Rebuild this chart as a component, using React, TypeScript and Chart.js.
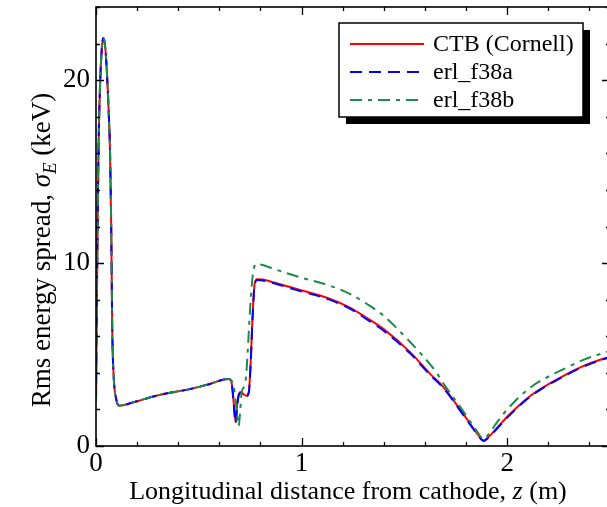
import React, { useEffect, useRef } from "react";
import { Chart, registerables } from "chart.js";

Chart.register(...registerables);

// ---- data (z in m, sigma_E in keV) ----
const zCTB = [0, 0.002, 0.006, 0.0122, 0.02, 0.028, 0.0355, 0.045, 0.055, 0.062, 0.068, 0.074, 0.079, 0.086, 0.098, 0.114, 0.14, 0.2, 0.294, 0.38, 0.456, 0.55, 0.642, 0.655, 0.663, 0.671, 0.679, 0.686, 0.695, 0.705, 0.72, 0.731, 0.743, 0.752, 0.762, 0.772, 0.785, 0.81, 0.87, 0.977, 1.136, 1.237, 1.31, 1.399, 1.529, 1.626, 1.691, 1.78, 1.85, 1.886, 1.91, 1.951, 2.0, 2.113, 2.274, 2.38, 2.5];
const sigmaCTB = [2.4, 5, 10, 16.2, 19.8, 21.7, 22.3, 21.8, 20, 18.2, 16.2, 12, 6.4, 3.8, 2.57, 2.2, 2.25, 2.45, 2.75, 2.95, 3.11, 3.38, 3.66, 3.6, 3.2, 2.2, 1.3, 2.2, 2.85, 2.95, 2.8, 2.75, 2.95, 4.5, 7.2, 8.9, 9.12, 9.1, 8.92, 8.58, 8.05, 7.55, 7.05, 6.39, 5.12, 3.93, 3.21, 1.85, 0.75, 0.3, 0.5, 1.0, 1.6, 2.75, 3.84, 4.42, 4.9];

const zF38a = [0, 0.002, 0.006, 0.0122, 0.02, 0.028, 0.0355, 0.045, 0.055, 0.062, 0.068, 0.074, 0.079, 0.086, 0.098, 0.114, 0.14, 0.2, 0.294, 0.38, 0.456, 0.55, 0.642, 0.655, 0.663, 0.671, 0.679, 0.686, 0.695, 0.705, 0.72, 0.731, 0.743, 0.752, 0.762, 0.772, 0.785, 0.81, 0.87, 0.977, 1.136, 1.237, 1.31, 1.399, 1.529, 1.626, 1.691, 1.78, 1.85, 1.886, 1.91, 1.951, 2.0, 2.113, 2.274, 2.38, 2.5];
const sigmaF38a = [2.4, 5, 10, 16.2, 19.8, 21.7, 22.3, 21.8, 20, 18.2, 16.2, 12, 6.4, 3.8, 2.57, 2.2, 2.25, 2.45, 2.75, 2.95, 3.11, 3.38, 3.66, 3.6, 3.15, 2.1, 1.25, 2.1, 2.8, 2.9, 2.75, 2.72, 2.9, 4.4, 7.1, 8.85, 9.08, 9.05, 8.88, 8.52, 8.0, 7.5, 6.98, 6.3, 5.05, 3.88, 3.15, 1.8, 0.72, 0.28, 0.48, 0.95, 1.55, 2.7, 3.8, 4.38, 4.86];

const zF38b = [0, 0.002, 0.006, 0.0122, 0.02, 0.028, 0.0355, 0.045, 0.055, 0.062, 0.068, 0.074, 0.079, 0.086, 0.098, 0.114, 0.14, 0.2, 0.294, 0.38, 0.456, 0.55, 0.642, 0.655, 0.665, 0.675, 0.686, 0.694, 0.701, 0.708, 0.722, 0.73, 0.738, 0.75, 0.762, 0.778, 0.81, 0.845, 0.993, 1.139, 1.237, 1.32, 1.399, 1.529, 1.626, 1.66, 1.691, 1.78, 1.85, 1.886, 1.91, 1.951, 2.0, 2.113, 2.274, 2.38, 2.5];
const sigmaF38b = [2.4, 5, 10, 16.2, 19.8, 21.7, 22.3, 21.8, 20, 18.2, 16.2, 12, 6.4, 3.8, 2.57, 2.2, 2.25, 2.45, 2.75, 2.95, 3.11, 3.38, 3.66, 3.62, 3.45, 2.9, 1.7, 1.1, 1.9, 2.9, 3.3, 3.8, 5.2, 7.6, 9.3, 9.95, 9.9, 9.76, 9.22, 8.76, 8.3, 7.75, 7.12, 5.67, 4.45, 3.95, 3.4, 2.0, 0.85, 0.38, 0.65, 1.3, 2.0, 3.2, 4.2, 4.75, 5.2];

const seriesLabels = ["CTB (Cornell)", "erl_f38a", "erl_f38b"];
const xTickValues = [0, 1, 2];
const yTickValues = [0, 10, 20];
const xRange = [0, 2.5];
const yRange = [0, 24];
const xMinorStep = 0.2;
const yMinorStep = 2;

const SERIF = "'Liberation Serif', 'Times New Roman', serif";
const COLORS = ["#ff0000", "#0000ff", "#1b8a4a"];
const DASHES: number[][] = [[], [12, 7], [12, 6, 4, 6]];

function drawSegments(ctx: CanvasRenderingContext2D, segs: { t: string; font: string; dy?: number }[], cx: number, y: number) {
  let total = 0;
  const widths = segs.map((s) => {
    ctx.font = s.font;
    const w = ctx.measureText(s.t).width;
    total += w;
    return w;
  });
  let x = cx - total / 2;
  segs.forEach((s, i) => {
    ctx.font = s.font;
    ctx.fillText(s.t, x, y + (s.dy || 0));
    x += widths[i];
  });
}

const framePlugin = {
  id: "frameDecor",
  afterDraw(chart: any) {
    const { ctx, chartArea: a, scales } = chart;
    const xs = scales.x;
    const ys = scales.y;
    ctx.save();
    ctx.strokeStyle = "#000";
    ctx.lineWidth = 1.6;
    ctx.strokeRect(a.left, a.top, a.right - a.left, a.bottom - a.top);

    ctx.lineWidth = 1.3;
    ctx.beginPath();
    const nx = Math.round((xRange[1] - xRange[0]) / xMinorStep);
    for (let i = 0; i <= nx; i++) {
      const v = xRange[0] + i * xMinorStep;
      const major = Math.abs(v - Math.round(v)) < 1e-6;
      const len = major ? 8 : 4;
      const px = Math.round(xs.getPixelForValue(v)) + 0.5;
      ctx.moveTo(px, a.bottom);
      ctx.lineTo(px, a.bottom - len);
      ctx.moveTo(px, a.top);
      ctx.lineTo(px, a.top + len);
    }
    const ny = Math.round((yRange[1] - yRange[0]) / yMinorStep);
    for (let i = 0; i <= ny; i++) {
      const v = yRange[0] + i * yMinorStep;
      const major = Math.abs(v / 10 - Math.round(v / 10)) < 1e-6;
      const len = major ? 8 : 4;
      const py = Math.round(ys.getPixelForValue(v)) + 0.5;
      ctx.moveTo(a.left, py);
      ctx.lineTo(a.left + len, py);
      ctx.moveTo(a.right, py);
      ctx.lineTo(a.right - len, py);
    }
    ctx.stroke();

    // axis titles
    ctx.fillStyle = "#000";
    ctx.textBaseline = "alphabetic";
    const fx = 26;
    drawSegments(
      ctx,
      [
        { t: "Longitudinal distance from cathode, ", font: `${fx}px ${SERIF}` },
        { t: "z", font: `italic ${fx}px ${SERIF}` },
        { t: " (m)", font: `${fx}px ${SERIF}` },
      ],
      348,
      499
    );
    const fy = 27;
    ctx.save();
    ctx.translate(50, 250);
    ctx.rotate(-Math.PI / 2);
    drawSegments(
      ctx,
      [
        { t: "Rms energy spread, ", font: `${fy}px ${SERIF}` },
        { t: "\u03C3", font: `italic ${fy}px ${SERIF}` },
        { t: "E", font: `italic ${Math.round(fy * 0.7)}px ${SERIF}`, dy: 6 },
        { t: " (keV)", font: `${fy}px ${SERIF}` },
      ],
      0,
      0
    );
    ctx.restore();

    // legend
    const bx = 339, by = 23, bw = 244, bh = 94;
    ctx.fillStyle = "#000";
    ctx.fillRect(bx + 7, by + 7, bw, bh);
    ctx.fillStyle = "#fff";
    ctx.fillRect(bx, by, bw, bh);
    ctx.lineWidth = 1.5;
    ctx.strokeStyle = "#000";
    ctx.strokeRect(bx, by, bw, bh);
    const rows = [44, 72, 100];
    chart.data.datasets.forEach((ds: any, i: number) => {
      const y = rows[i];
      ctx.strokeStyle = ds.borderColor;
      ctx.lineWidth = 2;
      ctx.setLineDash(ds.borderDash || []);
      ctx.beginPath();
      ctx.moveTo(350, y);
      ctx.lineTo(424, y);
      ctx.stroke();
      ctx.setLineDash([]);
      ctx.fillStyle = "#000";
      ctx.font = `24px ${SERIF}`;
      ctx.textBaseline = "middle";
      ctx.fillText(ds.label, 433, y + 1);
    });
    ctx.restore();
  },
};

export default function App() {
  const ref = useRef<HTMLCanvasElement | null>(null);
  useEffect(() => {
    document.body.style.overflow = "hidden";
    const canvas = ref.current;
    if (!canvas) return;
    const zs = [zCTB, zF38a, zF38b];
    const ss = [sigmaCTB, sigmaF38a, sigmaF38b];
    const chart = new Chart(canvas, {
      type: "line",
      data: {
        datasets: seriesLabels.map((label, i) => ({
          label,
          data: zs[i].map((z, j) => ({ x: z, y: ss[i][j] })),
          borderColor: COLORS[i],
          backgroundColor: COLORS[i],
          borderWidth: 2,
          borderDash: DASHES[i],
          pointRadius: 0,
          fill: false,
          cubicInterpolationMode: "monotone" as const,
          order: 3 - i,
        })),
      },
      options: {
        animation: false,
        responsive: false,
        devicePixelRatio: 1,
        layout: { padding: { top: 7, right: 2, left: 0, bottom: 0 } },
        plugins: { legend: { display: false }, tooltip: { enabled: false } },
        scales: {
          x: {
            type: "linear",
            min: xRange[0],
            max: xRange[1],
            grid: { display: false, drawTicks: false },
            border: { display: false },
            ticks: {
              font: { family: SERIF, size: 27 },
              color: "#000",
              padding: 2,
              maxRotation: 0,
              autoSkip: false,
              callback: (v: any) => String(v),
            },
            afterBuildTicks: (s: any) => {
              s.ticks = xTickValues.map((v) => ({ value: v }));
            },
            afterFit: (s: any) => {
              s.height = 61;
              s.paddingLeft = 0;
              s.paddingRight = 0;
            },
          },
          y: {
            type: "linear",
            min: yRange[0],
            max: yRange[1],
            grid: { display: false, drawTicks: false },
            border: { display: false },
            ticks: {
              font: { family: SERIF, size: 27 },
              color: "#000",
              padding: 6,
              autoSkip: false,
              callback: (v: any) => String(v),
            },
            afterBuildTicks: (s: any) => {
              s.ticks = yTickValues.map((v) => ({ value: v }));
            },
            afterFit: (s: any) => {
              s.width = 96;
              s.paddingTop = 0;
              s.paddingBottom = 0;
            },
          },
        },
      },
      plugins: [framePlugin],
    });
    return () => chart.destroy();
  }, []);
  return (
    <div style={{ position: "fixed", left: 0, top: 0, width: 607, height: 507, overflow: "hidden", background: "#fff" }}>
      <canvas ref={ref} width={612} height={507} style={{ width: 612, height: 507, display: "block" }} />
    </div>
  );
}
